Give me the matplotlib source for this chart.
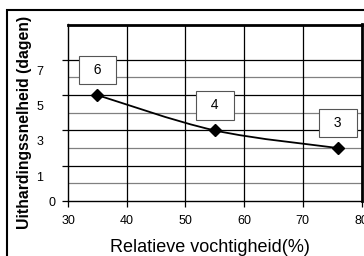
import matplotlib
matplotlib.use("Agg")
import matplotlib.pyplot as plt
from matplotlib.path import Path
from matplotlib.patches import PathPatch, Rectangle
import numpy as np

plt.rcParams['font.family'] = ['Liberation Sans', 'DejaVu Sans']

# Data
humidity = [35, 55, 76]          # relatieve vochtigheid (%)
cure_days = [6, 4, 3]            # uithardingssnelheid (dagen)
point_labels = ["6", "4", "3"]
x_ticks = [30, 40, 50, 60, 70, 80]
y_tick_labels = ["1", "3", "5", "7"]

fig = plt.figure(figsize=(3.64, 2.56), dpi=100)
ax = fig.add_axes([68 / 364, 1 - 201 / 256, 293.5 / 364, 176.5 / 256])

# Outer chart frame
fig.patches.append(Rectangle((7 / 364, -0.1), 1.0, (246 / 256) + 0.1,
                             transform=fig.transFigure, fill=False,
                             edgecolor='black', linewidth=1.5, clip_on=False))

ax.set_xlim(30, 80)
ax.set_ylim(0, 10)

# Gridlines (even black, odd grey)
for v in range(1, 9):
    ax.axhline(v, color='black' if v % 2 == 0 else '#808080', linewidth=0.9, zorder=1)
for v in x_ticks[1:-1]:
    ax.axvline(v, color='black', linewidth=0.9, zorder=1)

# Smoothed line (Catmull-Rom as cubic Bezier)
pts = np.column_stack([humidity, cure_days]).astype(float)
ext = np.vstack([pts[0], pts, pts[-1]])
verts = [tuple(pts[0])]
codes = [Path.MOVETO]
for i in range(len(pts) - 1):
    p0, p1, p2, p3 = ext[i], ext[i + 1], ext[i + 2], ext[i + 3]
    c1 = p1 + (p2 - p0) / 6
    c2 = p2 - (p3 - p1) / 6
    verts += [tuple(c1), tuple(c2), tuple(p2)]
    codes += [Path.CURVE4] * 3
ax.add_patch(PathPatch(Path(verts, codes), fill=False, edgecolor='black',
                       linewidth=1.3, zorder=3))
ax.plot(humidity, cure_days, linestyle='none', marker='D', markersize=6,
        color='black', zorder=4)

# Data labels in boxes
for x, y, lab in zip(humidity, cure_days, point_labels):
    ax.annotate("  " + lab + "  ", (x, y), xytext=(0, 18), textcoords='offset points',
                ha='center', va='center', fontsize=10,
                bbox=dict(boxstyle='square,pad=0.52', facecolor='white',
                          edgecolor='#555555', linewidth=0.8), zorder=5)

# Axes ticks
ax.set_xticks(x_ticks)
ax.tick_params(axis='x', direction='out', length=4, width=0.9, labelsize=9, pad=6)
ax.set_yticks([0, 2, 4, 6, 8], ['0', '', '', '', ''])
ax.set_yticks([1.4, 3.4, 5.4, 7.4], y_tick_labels, minor=True)
ax.tick_params(axis='y', which='major', direction='out', length=4, width=0.9,
               labelsize=9, pad=5)
ax.tick_params(axis='y', which='minor', length=0, labelsize=9, pad=18)

for side in ['left', 'bottom']:
    ax.spines[side].set_linewidth(1.0)
for side in ['top', 'right']:
    ax.spines[side].set_linewidth(2.0)

fig.text(210 / 364, 1 - 247 / 256, "Relatieve vochtigheid(%)", ha='center',
         va='center', fontsize=13)
fig.text(25 / 364, 1 - 122 / 256, "Uithardingssnelheid (dagen)", ha='center',
         va='center', rotation=90, fontsize=11.3, fontweight='bold')

fig.savefig("out.png", dpi=100)
